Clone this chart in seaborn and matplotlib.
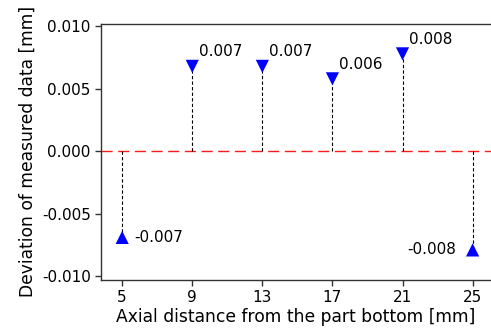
import matplotlib
matplotlib.use("Agg")
import matplotlib.pyplot as plt
import seaborn as sns
import pandas as pd

positions = [5, 9, 13, 17, 21, 25]
deviations = [-0.0069, 0.0068, 0.0068, 0.0058, 0.0078, -0.0079]
labels = ["-0.007", "0.007", "0.007", "0.006", "0.008", "-0.008"]
xticks = [5, 9, 13, 17, 21, 25]
yticks = [-0.010, -0.005, 0.000, 0.005, 0.010]

sns.set_style("ticks")
plt.rcParams['font.family'] = ['DejaVu Sans']
plt.rcParams['text.color'] = 'black'
plt.rcParams['axes.labelcolor'] = 'black'
plt.rcParams['xtick.labelcolor'] = 'black'
plt.rcParams['ytick.labelcolor'] = 'black'

df = pd.DataFrame({"x": positions, "y": deviations})
df["sign"] = ["neg" if v < 0 else "pos" for v in deviations]

fig = plt.figure(figsize=(4.91, 3.32), dpi=100)
ax = fig.add_axes([0.206, 0.157, 0.794, 0.771])

ax.axhline(0, color="#ff1a1a", lw=1.0, dashes=(8, 4), zorder=1)
ax.vlines(df["x"], 0, df["y"], colors="black", lw=0.8, linestyles=(0, (3, 2)), zorder=2)
sns.scatterplot(data=df, x="x", y="y", style="sign", markers={"pos": "v", "neg": "^"},
                color="#0000ff", s=90, edgecolor="none", legend=False, ax=ax, zorder=3)

for x, y, t in zip(positions, deviations, labels):
    if y > 0:
        ax.annotate(t, (x, y), xytext=(5, 5), textcoords="offset points", ha="left", va="bottom", fontsize=11)
    elif x == positions[-1]:
        ax.annotate(t, (x, y), xytext=(-12, 0), textcoords="offset points", ha="right", va="center", fontsize=11)
    else:
        ax.annotate(t, (x, y), xytext=(9, 0), textcoords="offset points", ha="left", va="center", fontsize=11)

ax.set_xlim(3.8, 26.05)
ax.set_ylim(-0.0103, 0.0102)
ax.set_xticks(xticks)
ax.set_yticks(yticks)
ax.set_yticklabels([f"{v:.3f}" for v in yticks])
ax.tick_params(labelsize=11, length=4, width=1, color="#333333")
for s in ["left", "bottom", "top"]:
    ax.spines[s].set_color("#333333")
    ax.spines[s].set_linewidth(1.0)
ax.spines["right"].set_visible(False)
ax.set_xlabel("Axial distance from the part bottom [mm]", fontsize=12.3, labelpad=2)
ax.set_ylabel("Deviation of measured data [mm]", fontsize=12.3, labelpad=4)

fig.savefig("out.png", dpi=100)
